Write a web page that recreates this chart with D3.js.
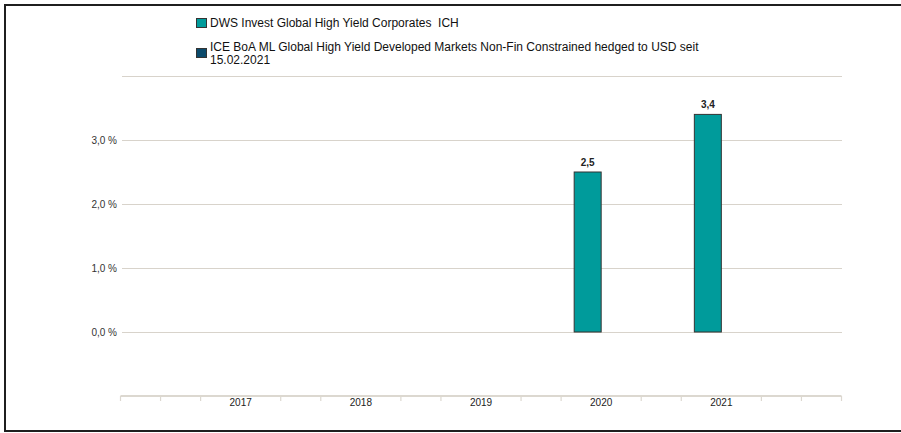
<!DOCTYPE html>
<html>
<head>
<meta charset="utf-8">
<script src="https://cdn.jsdelivr.net/npm/d3@7/dist/d3.min.js"></script>
<style>
  html, body { margin: 0; padding: 0; background: #fff; }
  svg { display: block; font-family: "Liberation Sans", Arial, sans-serif; }
  text { white-space: pre; }
</style>
</head>
<body>
<svg id="chart" width="901" height="433"></svg>
<script>
const categories = ["2017", "2018", "2019", "2020", "2021"];
const seriesNames = [
  "DWS Invest Global High Yield Corporates  ICH",
  "ICE BoA ML Global High Yield Developed Markets Non-Fin Constrained hedged to USD seit 15.02.2021"
];
const fundValues = [null, null, null, 2.5, 3.4];
const benchmarkValues = [null, null, null, null, null];
const yTickValues = [0, 1, 2, 3];
const yGridValues = [0, 1, 2, 3, 4];
const colors = ["#009b9b", "#0b4a6b"];

const svg = d3.select("#chart");

// frame
svg.append("rect").attr("x", 5).attr("y", 5).attr("width", 940).attr("height", 426)
  .attr("fill", "none").attr("stroke", "#1f1f1f").attr("stroke-width", 2);

const x0 = d3.scaleBand().domain(categories).range([120.5, 841.5]).paddingInner(0).paddingOuter(0.5);
const x1 = d3.scaleBand().domain([0, 1]).range([0, x0.bandwidth()]).paddingInner(0).paddingOuter(1.226);
const y = d3.scaleLinear().domain([-1, 4]).range([396, 76]);

// gridlines
svg.append("g").selectAll("line").data(yGridValues).join("line")
  .attr("x1", 122).attr("x2", 842)
  .attr("y1", d => Math.round(y(d)) + 0.5).attr("y2", d => Math.round(y(d)) + 0.5)
  .attr("stroke", "#d8d3cb").attr("stroke-width", 1);

// y labels
const fmt = d => d3.format(".1f")(d).replace(".", ",") + " %";
svg.append("g").selectAll("text").data(yTickValues).join("text")
  .attr("x", 117).attr("y", d => y(d) + 3.5)
  .attr("text-anchor", "end").attr("font-size", 10).attr("fill", "#333")
  .text(fmt);

// x axis
const [r0, r1] = x0.range();
const sub = x0.step() / 3;
const tickKs = d3.range(19).filter(k => k % 3 !== 0 || k === 0 || k === 18);
const axisG = svg.append("g");
axisG.append("line").attr("x1", r0).attr("x2", r1).attr("y1", 396).attr("y2", 396)
  .attr("stroke", "#dcd8d0").attr("stroke-width", 2.2);
axisG.selectAll("line.tick").data(tickKs).join("line").attr("class", "tick")
  .attr("x1", k => r0 + k * sub).attr("x2", k => r0 + k * sub)
  .attr("y1", 396).attr("y2", 401)
  .attr("stroke", "#dcd8d0").attr("stroke-width", 1.2);
axisG.selectAll("text").data(categories).join("text")
  .attr("x", d => x0(d) + x0.bandwidth() / 2).attr("y", 406)
  .attr("text-anchor", "middle").attr("font-size", 10).attr("fill", "#222")
  .text(d => d);

// bars
const allSeries = [fundValues, benchmarkValues];
allSeries.forEach((vals, si) => {
  const data = categories.map((c, i) => ({ c, v: vals[i] })).filter(d => d.v != null);
  const g = svg.append("g");
  g.selectAll("rect").data(data).join("rect")
    .attr("x", d => x0(d.c) + x1(si))
    .attr("y", d => y(d.v))
    .attr("width", x1.bandwidth())
    .attr("height", d => y(0) - y(d.v))
    .attr("fill", colors[si]).attr("stroke", "#333").attr("stroke-width", 1);
  g.selectAll("text").data(data).join("text")
    .attr("x", d => x0(d.c) + x1(si) + x1.bandwidth() / 2)
    .attr("y", d => y(d.v) - 6)
    .attr("text-anchor", "middle").attr("font-size", 10).attr("font-weight", "bold").attr("fill", "#222")
    .text(d => d3.format(".1f")(d.v).replace(".", ","));
});

// legend
const leg = svg.append("g");
leg.append("rect").attr("x", 196.5).attr("y", 18.5).attr("width", 10).attr("height", 9)
  .attr("fill", colors[0]).attr("stroke", "#333").attr("stroke-width", 1);
leg.append("text").attr("x", 210).attr("y", 26.5).attr("font-size", 12).attr("fill", "#111")
  .text(seriesNames[0]);
leg.append("rect").attr("x", 196.5).attr("y", 48.5).attr("width", 10).attr("height", 9)
  .attr("fill", colors[1]).attr("stroke", "#333").attr("stroke-width", 1);
const t2 = leg.append("text").attr("font-size", 12).attr("fill", "#111");
t2.append("tspan").attr("x", 210).attr("y", 51).text(seriesNames[1].replace(" 15.02.2021", ""));
t2.append("tspan").attr("x", 210).attr("y", 64).text("15.02.2021");
</script>
</body>
</html>
